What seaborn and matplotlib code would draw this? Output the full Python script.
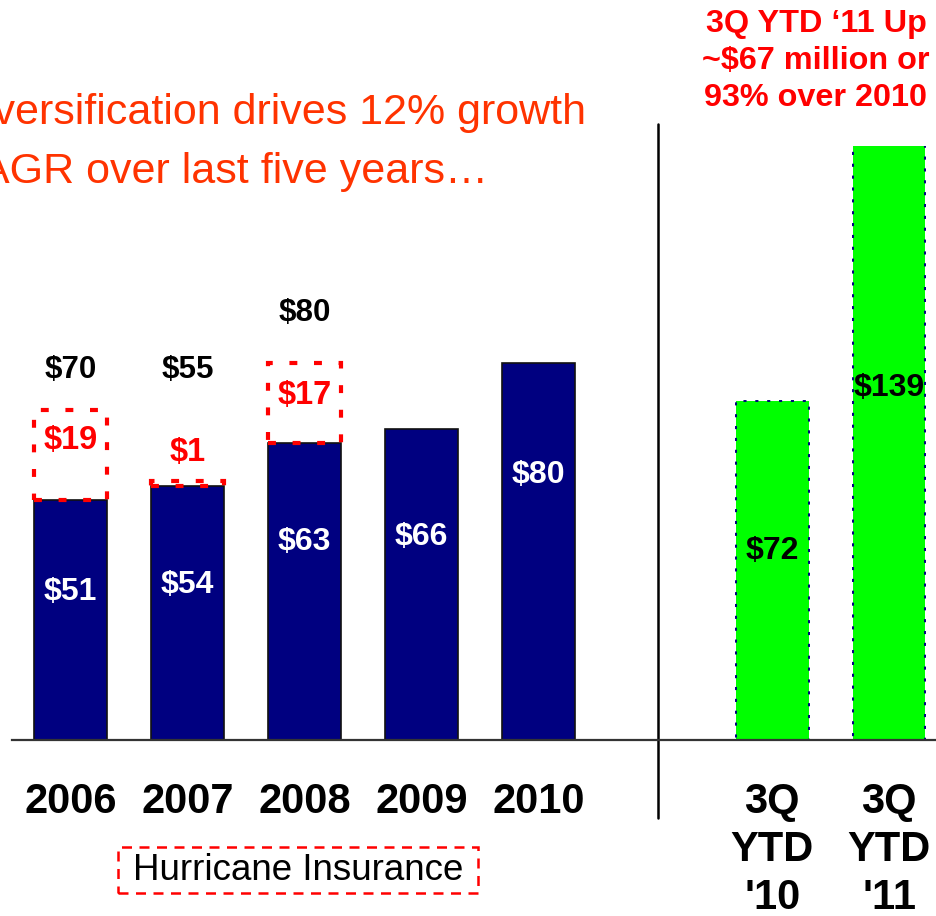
import numpy as np
import pandas as pd
import seaborn as sns
import matplotlib
import matplotlib.pyplot as plt
from matplotlib.patches import Rectangle

matplotlib.use('Agg')

# values in $ millions
years = ['2006', '2007', '2008', '2009', '2010']
core = [51, 54, 63, 66, 80]
hurricane = [19, 1, 17, 0, 0]
ytd_labels = ["3Q\nYTD\n'10", "3Q\nYTD\n'11"]
ytd = [72, 139]

# where the value labels sit (data units)
total_label_y = [78.6, 78.6, 90.7]
hurr_label_y = [63.5, 61.1, 73.2]
core_label_y = [31.4, 32.9, 42.0, 43.1, 56.3]
ytd_label_y = [40.1, 74.7]

NAVY = '#000080'
GREEN = '#00FF00'
RED = '#FF0000'
TITLE_RED = '#FF3300'

sns.set_style('white')
plt.rcParams['font.family'] = ['Liberation Sans', 'DejaVu Sans']

order = years + [' '] + ytd_labels
df_core = pd.DataFrame({'label': years, 'value': core})
df_ytd = pd.DataFrame({'label': ytd_labels, 'value': ytd})

fig = plt.figure(figsize=(9.36, 9.16), dpi=100)
ax = fig.add_axes([12 / 936, 176 / 916, 1 - 12 / 936, 594 / 916])

sns.barplot(data=df_core, x='label', y='value', order=order, color=NAVY,
            saturation=1, width=0.62, edgecolor='#111111', linewidth=1.2, ax=ax)
sns.barplot(data=df_ytd, x='label', y='value', order=order, color=GREEN,
            saturation=1, width=0.62, edgecolor=NAVY, linewidth=1.4,
            linestyle=(0, (1.6, 4.5)), ax=ax)

# hurricane insurance portion: dashed red boxes stacked on the core bars
pos = [order.index(y) for y in years]
for p, c, h in zip(pos, core, hurricane):
    if h <= 0:
        continue
    ax.bar(p, h, bottom=c, width=0.62, fill=False, edgecolor=RED,
           linewidth=3.0, linestyle=(0, (1.9, 4.0)), clip_on=False, zorder=3)

# value labels
k = 0
for i, (p, c, h) in enumerate(zip(pos, core, hurricane)):
    ax.text(p, core_label_y[i], f'${c}', ha='center', va='center', color='white',
            fontsize=23, fontweight='bold', zorder=4)
    if h > 0:
        ax.text(p, hurr_label_y[k], f'${h}', ha='center', va='center', color=RED,
                fontsize=23.5, fontweight='bold', clip_on=False, zorder=4)
        ax.text(p, total_label_y[k], f'${c + h}', ha='center', va='center',
                color='black', fontsize=22.5, fontweight='bold', clip_on=False)
        k += 1

for j, (lab, v) in enumerate(zip(ytd_labels, ytd)):
    ax.text(order.index(lab), ytd_label_y[j], f'${v}', ha='center', va='center',
            color='black', fontsize=23, fontweight='bold', zorder=4)

ax.set_xlabel('')
ax.set_ylabel('')
ax.set_yticks([])
for s in ['left', 'right', 'top']:
    ax.spines[s].set_visible(False)
ax.spines['bottom'].set_color('#333333')
ax.spines['bottom'].set_linewidth(1.6)

ax.set_xticks(range(len(order)))
ax.set_xticklabels(order, fontsize=30, fontweight='bold', color='black')
for t in ax.get_xticklabels():
    t.set_linespacing(1.27)
ax.tick_params(axis='x', which='major', length=0, pad=30)
ax.set_xticks(np.arange(-0.5, len(order) - 1, 1), minor=True)
ax.tick_params(axis='x', which='minor', length=11, width=1.6, color='#222222',
               direction='out')

# divider between the annual and year-to-date panels
ax.plot([5.02, 5.02], [130.8, -16.6], color='black', linewidth=1.8, clip_on=False)

ax.set_xlim(-0.5, 7.4)
ax.set_ylim(0, 126.1)

# headline text
fig.text(586 / 936, 1 - 124 / 916, 'Diversification drives 12% growth',
         ha='right', va='baseline', fontsize=31, color=TITLE_RED)
fig.text(488 / 936, 1 - 183 / 916, 'CAGR over last five years\u2026',
         ha='right', va='baseline', fontsize=31, color=TITLE_RED)

fig.text(816 / 936, 1 - 61 / 916,
         '3Q YTD \u201811 Up\n~$67 million or\n93% over 2010',
         ha='center', va='center', multialignment='center', linespacing=1.32,
         fontsize=23.3, fontweight='bold', color=RED)

# legend for the dashed boxes
fig.patches.append(Rectangle((118 / 936, 1 - 893 / 916), 360 / 936, 46 / 916,
                             transform=fig.transFigure, fill=False, edgecolor=RED,
                             linewidth=1.8, linestyle=(0, (4, 3))))
fig.text(298 / 936, 1 - 870 / 916, 'Hurricane Insurance', ha='center', va='center',
         fontsize=26.5, color='black')

fig.savefig('out.png', dpi=100)
